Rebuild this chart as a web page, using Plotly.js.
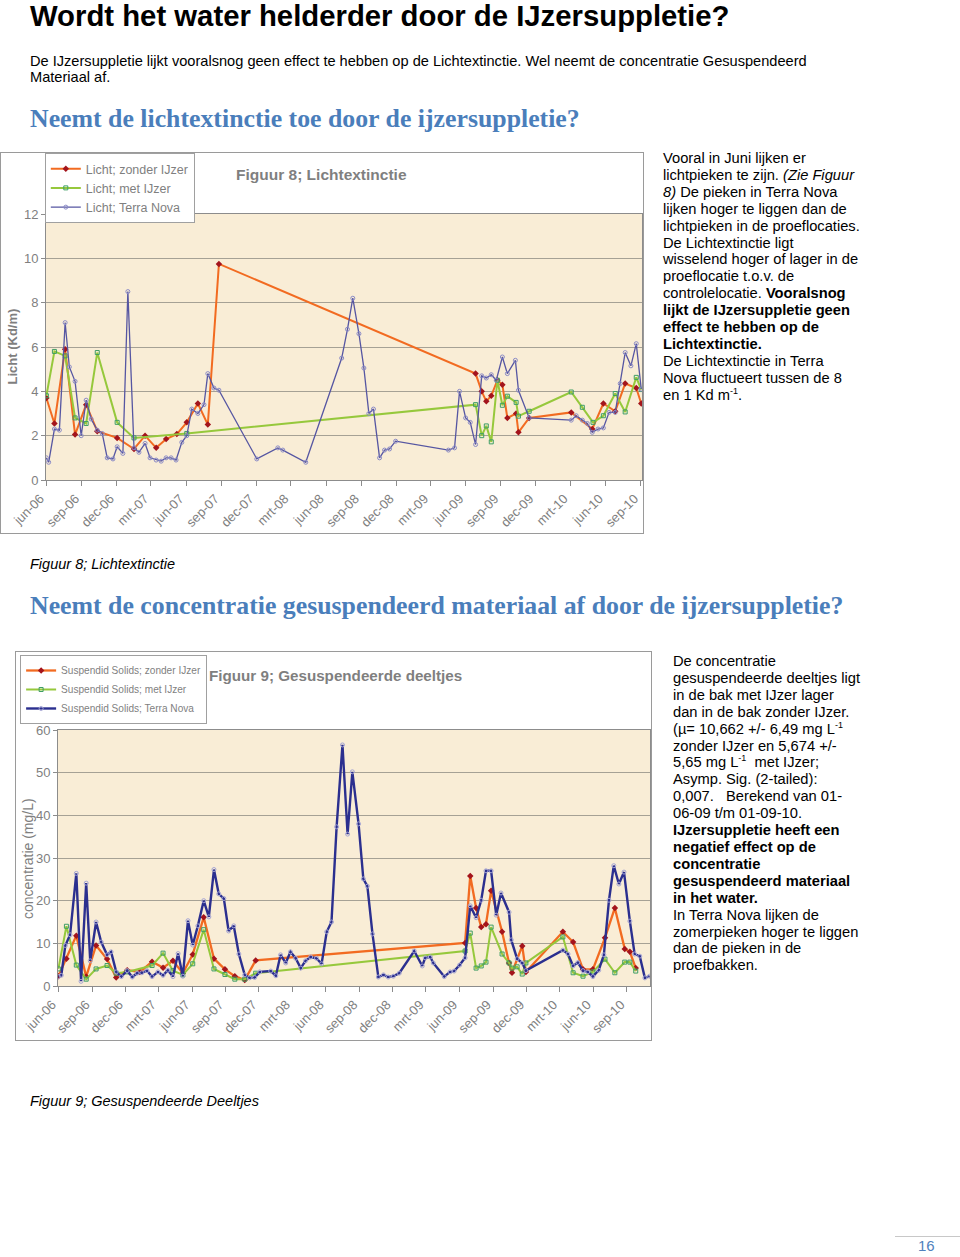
<!DOCTYPE html>
<html>
<head>
<meta charset="utf-8">
<script src="https://cdn.plot.ly/plotly-3.0.1.min.js"></script>
<style>
  body { margin: 0; background: #fff; font-family: 'Liberation Sans', Arial, sans-serif; color: #000; }
  #page { position: relative; width: 960px; height: 1257px; overflow: hidden; }
  .abs { position: absolute; white-space: nowrap; }
  .h1 { left: 30px; top: -1px; font-size: 29.3px; font-weight: bold; }
  .intro { left: 30px; top: 53px; font-size: 14.6px; line-height: 16px; }
  .h2 { left: 30px; font-family: 'Liberation Serif', 'DejaVu Serif', serif; font-weight: bold; font-size: 25.8px; color: #4A7EBB; }
  .caption { left: 30px; font-style: italic; font-size: 14.5px; }
  .side { font-size: 14.7px; line-height: 16.9px; }
  .side sup { font-size: 9px; line-height: 0; vertical-align: 6px; }
  .chartbox { position: absolute; border: 1px solid #9a9a9a; }
  .pagenr { left: 918px; top: 1237px; font-size: 15px; color: #4F81BD; }
  .rule { position: absolute; left: 895px; top: 1236px; width: 65px; height: 1px; background: #c8c8c8; }
</style>
</head>
<body>
<div id="page">
  <div class="abs h1">Wordt het water helderder door de IJzersuppletie?</div>
  <div class="abs intro">De IJzersuppletie lijkt vooralsnog geen effect te hebben op de Lichtextinctie. Wel neemt de concentratie Gesuspendeerd<br>Materiaal af.</div>
  <div class="abs h2" style="top:104px;">Neemt de lichtextinctie toe door de ijzersuppletie?</div>

  <div class="chartbox" style="left:0px; top:152px;"><div id="chart1" style="width:642px; height:380px;"></div></div>

  <div class="abs side" style="left:663px; top:150px;">
    Vooral in Juni lijken er<br>
    lichtpieken te zijn. <i>(Zie Figuur</i><br>
    <i>8)</i> De pieken in Terra Nova<br>
    lijken hoger te liggen dan de<br>
    lichtpieken in de proeflocaties.<br>
    De Lichtextinctie ligt<br>
    wisselend hoger of lager in de<br>
    proeflocatie t.o.v. de<br>
    controlelocatie. <b>Vooralsnog</b><br>
    <b>lijkt de IJzersuppletie geen</b><br>
    <b>effect te hebben op de</b><br>
    <b>Lichtextinctie.</b><br>
    De Lichtextinctie in Terra<br>
    Nova fluctueert tussen de 8<br>
    en 1 Kd m<sup>-1</sup>.
  </div>

  <div class="abs caption" style="top:556px;">Figuur 8; Lichtextinctie</div>
  <div class="abs h2" style="top:591px;">Neemt de concentratie gesuspendeerd materiaal af door de ijzersuppletie?</div>

  <div class="chartbox" style="left:15px; top:651px;"><div id="chart2" style="width:635px; height:388px;"></div></div>

  <div class="abs side" style="left:673px; top:653px;">
    De concentratie<br>
    gesuspendeerde deeltjes ligt<br>
    in de bak met IJzer lager<br>
    dan in de bak zonder IJzer.<br>
    (µ= 10,662 +/- 6,49 mg L<sup>-1</sup><br>
    zonder IJzer en 5,674 +/-<br>
    5,65 mg L<sup>-1</sup> &nbsp;met IJzer;<br>
    Asymp. Sig. (2-tailed):<br>
    0,007. &nbsp;&nbsp;Berekend van 01-<br>
    06-09 t/m 01-09-10.<br>
    <b>IJzersuppletie heeft een</b><br>
    <b>negatief effect op de</b><br>
    <b>concentratie</b><br>
    <b>gesuspendeerd materiaal</b><br>
    <b>in het water.</b><br>
    In Terra Nova lijken de<br>
    zomerpieken hoger te liggen<br>
    dan de pieken in de<br>
    proefbakken.
  </div>

  <div class="abs caption" style="top:1093px;">Figuur 9; Gesuspendeerde Deeltjes</div>
  <div class="rule"></div>
  <div class="abs pagenr">16</div>
</div>

<script>
// shared x-axis ticks (every 3 months)
const tickDates = ['2006-06-01','2006-09-01','2006-12-01','2007-03-01','2007-06-01','2007-09-01',
  '2007-12-01','2008-03-01','2008-06-01','2008-09-01','2008-12-01','2009-03-01',
  '2009-06-01','2009-09-01','2009-12-01','2010-03-01','2010-06-01','2010-09-01'];
const tickLabels = ['jun-06','sep-06','dec-06','mrt-07','jun-07','sep-07','dec-07','mrt-08','jun-08',
  'sep-08','dec-08','mrt-09','jun-09','sep-09','dec-09','mrt-10','jun-10','sep-10'];

// Figuur 8: Licht (Kd/m)
const lichtZonderDates = ['2006-06-01','2006-06-22','2006-07-20','2006-08-15','2006-09-13','2006-10-12',
  '2006-12-03','2007-01-16','2007-02-14','2007-03-15','2007-04-10','2007-05-08','2007-06-03','2007-07-02',
  '2007-07-28','2007-08-26','2009-06-27','2009-07-13','2009-07-25','2009-08-07','2009-08-23','2009-09-05',
  '2009-09-18','2009-10-11','2009-10-17','2009-11-14','2010-03-04','2010-04-28','2010-05-27','2010-06-27',
  '2010-07-23','2010-08-21','2010-09-03'];
const lichtZonder = [3.7,2.55,5.9,2.05,3.4,2.2,1.9,1.4,2.0,1.45,1.85,2.07,2.6,3.45,2.5,9.75,
  4.8,4.0,3.55,3.8,4.5,4.3,2.8,3.0,2.15,2.8,3.05,2.3,3.45,3.1,4.35,4.15,3.45];

const lichtMetDates = ['2006-06-01','2006-06-22','2006-07-20','2006-08-15','2006-09-13','2006-10-12',
  '2006-12-03','2007-01-16','2007-06-03','2009-06-27','2009-07-13','2009-07-25','2009-08-07','2009-08-23',
  '2009-09-05','2009-09-18','2009-10-11','2009-10-17','2009-11-14','2010-03-04','2010-04-02','2010-04-30',
  '2010-05-27','2010-06-27','2010-07-23','2010-08-21','2010-09-03'];
const lichtMet = [3.8,5.8,5.6,2.8,2.55,5.75,2.6,1.9,2.1,3.4,2.0,2.44,1.72,4.5,3.37,3.78,3.5,2.88,3.1,
  3.97,3.28,2.6,2.9,3.9,3.07,4.63,4.08];

const lichtTNDates = ['2006-06-01','2006-06-07','2006-06-22','2006-07-05','2006-07-20','2006-07-31',
  '2006-08-15','2006-08-31','2006-09-13','2006-09-26','2006-10-12','2006-10-25','2006-11-07','2006-11-22',
  '2006-12-03','2006-12-18','2006-12-31','2007-01-16','2007-01-29','2007-02-14','2007-02-27','2007-03-15',
  '2007-03-28','2007-04-10','2007-04-23','2007-05-06','2007-05-21','2007-06-03','2007-06-16','2007-07-02',
  '2007-07-18','2007-07-28','2007-08-13','2007-08-26','2007-12-03','2008-01-27','2008-02-09','2008-04-09',
  '2008-07-12','2008-07-27','2008-08-10','2008-08-26','2008-09-08','2008-09-21','2008-10-03','2008-10-19',
  '2008-11-01','2008-11-14','2008-11-30','2009-04-17','2009-05-03','2009-05-16','2009-06-01','2009-06-13',
  '2009-06-27','2009-07-13','2009-07-25','2009-08-07','2009-08-20','2009-09-05','2009-09-18','2009-10-09',
  '2009-10-17','2009-11-14','2010-03-04','2010-03-17','2010-04-02','2010-04-15','2010-04-28','2010-05-13',
  '2010-05-27','2010-06-11','2010-06-27','2010-07-10','2010-07-23','2010-08-07','2010-08-21','2010-09-03'];
const lichtTN = [1.0,0.8,2.3,2.25,7.1,5.1,4.45,2.0,3.6,2.75,2.25,2.1,1.0,0.95,1.5,1.2,8.5,
  1.45,1.25,1.65,1.0,0.9,0.85,1.0,1.0,0.9,1.7,2.0,3.2,3.0,3.4,4.8,4.15,4.05,0.95,
  1.45,1.35,0.8,5.5,6.8,8.2,6.6,5.05,3.0,3.2,1.0,1.35,1.4,1.75,
  1.35,1.45,4.0,2.8,2.6,1.6,4.7,4.6,4.75,4.5,5.55,4.8,5.4,4.05,2.8,
  2.7,2.9,2.7,2.55,2.15,2.3,2.35,3.05,3.05,4.35,5.75,5.15,6.15,4.1];

// Figuur 9: Suspendid Solids (mg/L)
const ssZonderDates = ['2006-06-01','2006-06-23','2006-07-20','2006-08-16','2006-09-12','2006-10-12',
  '2006-11-06','2006-12-06','2007-01-10','2007-02-12','2007-03-14','2007-04-10','2007-05-07','2007-06-03',
  '2007-07-03','2007-07-31','2007-08-30','2007-09-26','2007-10-23','2007-11-22','2009-06-16','2009-06-30',
  '2009-07-16','2009-07-30','2009-08-12','2009-08-26','2009-09-25','2009-10-14','2009-10-22','2009-11-19',
  '2009-11-29','2010-03-10','2010-04-07','2010-05-04','2010-05-31','2010-07-03','2010-07-30','2010-08-26',
  '2010-09-09','2010-09-25'];
const ssZonder = [2.3,6.4,11.8,2.2,9.5,6.3,2.0,3.7,3.3,5.7,4.3,5.9,3.0,7.4,16.1,6.4,3.9,2.3,1.4,6.0,
  10.1,25.8,18.3,13.8,14.5,22.3,12.7,5.4,3.1,9.4,3.3,12.7,10.3,3.9,3.9,11.3,18.3,8.7,8.0,4.2];

const ssMetDates = ['2006-06-01','2006-06-23','2006-07-20','2006-08-16','2006-09-12','2006-10-12',
  '2006-11-06','2006-12-06','2007-02-12','2007-03-14','2007-04-10','2007-05-07','2007-06-03','2007-07-03',
  '2007-07-31','2007-08-30','2007-09-26','2007-10-23','2007-11-22','2009-06-16','2009-06-30','2009-07-16',
  '2009-07-30','2009-08-12','2009-08-26','2009-09-25','2009-10-14','2009-10-22','2009-11-05','2009-11-19',
  '2009-11-29','2010-03-10','2010-04-07','2010-05-04','2010-05-31','2010-07-03','2010-07-30','2010-08-26',
  '2010-09-09','2010-09-25'];
const ssMet = [4.0,14.0,4.9,1.6,4.0,4.8,3.0,3.3,4.8,7.7,3.6,2.6,5.2,13.2,4.0,2.7,1.6,1.6,3.0,
  8.2,12.4,4.2,4.7,5.6,13.8,7.5,5.4,4.2,4.5,2.8,5.4,11.5,3.1,2.3,3.3,6.3,3.1,5.6,5.6,3.5];

const ssTNDates = ['2006-06-01','2006-06-09','2006-06-20','2006-07-03','2006-07-20','2006-08-02',
  '2006-08-16','2006-08-27','2006-09-12','2006-09-26','2006-10-12','2006-10-23','2006-11-06','2006-11-20',
  '2006-12-06','2006-12-20','2007-01-02','2007-01-15','2007-01-29','2007-02-12','2007-02-28','2007-03-14',
  '2007-03-27','2007-04-10','2007-04-24','2007-05-07','2007-05-21','2007-06-03','2007-06-17','2007-07-03',
  '2007-07-17','2007-07-31','2007-08-13','2007-08-27','2007-09-09','2007-09-23','2007-10-07','2007-10-23',
  '2007-11-05','2007-11-19','2007-12-03','2008-01-02','2008-01-16','2008-01-29','2008-02-12','2008-02-25',
  '2008-03-10','2008-03-24','2008-04-06','2008-04-20','2008-05-06','2008-05-20','2008-06-03','2008-06-16',
  '2008-06-30','2008-07-16','2008-07-30','2008-08-12','2008-08-29','2008-09-11','2008-09-22','2008-10-06',
  '2008-10-22','2008-11-05','2008-11-18','2008-12-02','2008-12-18','2009-01-28','2009-02-19','2009-02-27',
  '2009-03-13','2009-03-21','2009-04-20','2009-05-06','2009-05-17','2009-06-01','2009-06-16','2009-06-30',
  '2009-07-16','2009-07-30','2009-08-12','2009-08-26','2009-09-09','2009-09-22','2009-10-14','2009-10-20',
  '2009-11-05','2009-11-19','2009-11-29','2010-03-10','2010-03-24','2010-04-07','2010-04-20','2010-05-04',
  '2010-05-17','2010-05-31','2010-06-16','2010-06-30','2010-07-14','2010-07-27','2010-08-10','2010-08-24',
  '2010-09-09','2010-09-22','2010-10-06','2010-10-20','2010-11-02'];
const ssTN = [2.2,2.5,9.5,12.0,26.4,1.1,24.1,5.9,15.0,10.3,7.3,8.0,3.3,2.2,3.6,2.1,
  3.0,3.1,3.6,2.2,3.3,2.5,3.7,2.2,7.6,2.3,15.3,9.6,14.1,20.0,16.2,27.3,21.6,20.5,12.9,14.1,7.5,2.6,1.9,2.0,3.3,
  3.5,2.4,7.3,5.4,8.0,6.5,4.2,5.9,6.8,6.5,5.2,12.7,15.0,37.3,56.5,35.6,50.2,38.0,25.1,23.4,12.2,2.1,2.6,2.1,2.3,3.0,
  8.2,4.7,6.6,6.8,5.4,2.2,3.3,3.5,4.9,6.6,18.8,16.0,20.1,27.0,27.0,16.6,21.8,17.3,10.8,6.4,5.4,3.6,
  8.4,7.5,4.7,5.5,3.6,3.3,2.2,3.7,7.3,20.1,28.2,23.9,26.7,15.2,7.5,7.0,1.9,2.3];

const grey = '#7F7F7F';
const font = "'Liberation Sans', Arial, sans-serif";

function xAxis(range, size) {
  return {
    type: 'date', range: range, tickvals: tickDates, ticktext: tickLabels, tickangle: -45,
    ticks: 'outside', ticklen: 5, tickcolor: '#8c8c8c', showline: true, linecolor: '#8c8c8c',
    mirror: true, showgrid: false, zeroline: false, ticklabelshift: -6,
    tickfont: {size: size, color: grey}
  };
}

function yAxis(range, dtick) {
  return {
    range: range, dtick: dtick, showgrid: true, gridcolor: '#A6A195', gridwidth: 1,
    ticks: 'outside', ticklen: 4, tickcolor: '#8c8c8c', showline: true, linecolor: '#8c8c8c',
    mirror: true, zeroline: false, tickfont: {size: 13, color: grey}
  };
}

// chart 1
let zonder1 = {
  x: lichtZonderDates, y: lichtZonder, name: 'Licht; zonder IJzer', mode: 'lines+markers', type: 'scatter',
  line: {color: '#F26B21', width: 2}, marker: {symbol: 'diamond', size: 5, color: '#A3141C'}
};
let met1 = {
  x: lichtMetDates, y: lichtMet, name: 'Licht; met IJzer', mode: 'lines+markers', type: 'scatter',
  line: {color: '#96C83C', width: 2}, marker: {symbol: 'square-open', size: 4, color: '#3E9E64'}
};
let tn1 = {
  x: lichtTNDates, y: lichtTN, name: 'Licht; Terra Nova', mode: 'lines+markers', type: 'scatter',
  line: {color: '#5656A2', width: 1.3}, marker: {symbol: 'circle-open', size: 4, color: '#8A8AC6'}
};

let layout1 = {
  width: 642, height: 380,
  margin: {l: 45, r: 1, t: 60, b: 53},
  paper_bgcolor: '#ffffff', plot_bgcolor: '#F9EDD6',
  font: {family: font, color: grey},
  xaxis: xAxis(['2006-05-31', '2010-09-05'], 13),
  yaxis: yAxis([0, 12], 2),
  showlegend: true,
  legend: {
    x: -0.002, y: 1.2247, xanchor: 'left', yanchor: 'top', bgcolor: '#ffffff',
    bordercolor: '#A0A0A0', borderwidth: 1, font: {size: 12.5, color: grey}, tracegroupgap: 0
  },
  annotations: [
    {text: '<b>Figuur 8; Lichtextinctie</b>', xref: 'paper', yref: 'paper', x: 0.315, y: 1.15,
     xanchor: 'left', yanchor: 'middle', showarrow: false, font: {size: 15.5, color: grey}},
    {text: '<b>Licht (Kd/m)</b>', xref: 'paper', yref: 'paper', x: -0.057, y: 0.502, textangle: -90,
     xanchor: 'center', yanchor: 'middle', showarrow: false, font: {size: 13, color: grey}}
  ]
};

Plotly.newPlot('chart1', [zonder1, met1, tn1], layout1, {displayModeBar: false});

// chart 2
let zonder2 = {
  x: ssZonderDates, y: ssZonder, name: 'Suspendid Solids; zonder IJzer', mode: 'lines+markers', type: 'scatter',
  line: {color: '#F26B21', width: 2.3}, marker: {symbol: 'diamond', size: 5, color: '#A3141C'}
};
let met2 = {
  x: ssMetDates, y: ssMet, name: 'Suspendid Solids; met IJzer', mode: 'lines+markers', type: 'scatter',
  line: {color: '#96C83C', width: 2}, marker: {symbol: 'square-open', size: 4, color: '#3E9E64'}
};
let tn2 = {
  x: ssTNDates, y: ssTN, name: 'Suspendid Solids; Terra Nova', mode: 'lines+markers', type: 'scatter',
  line: {color: '#2B2F8F', width: 2.4}, marker: {symbol: 'circle-open', size: 4, color: '#A4A4D4'}
};

let layout2 = {
  width: 635, height: 388,
  margin: {l: 42, r: 1, t: 78, b: 54},
  paper_bgcolor: '#ffffff', plot_bgcolor: '#F9EDD6',
  font: {family: font, color: grey},
  xaxis: xAxis(['2006-05-31', '2010-11-03'], 13),
  yaxis: yAxis([0, 60], 10),
  showlegend: true,
  legend: {
    x: -0.064, y: 1.293, xanchor: 'left', yanchor: 'top', bgcolor: '#ffffff',
    bordercolor: '#A0A0A0', borderwidth: 1, font: {size: 10.1, color: grey}, tracegroupgap: 0
  },
  annotations: [
    {text: '<b>Figuur 9; Gesuspendeerde deeltjes</b>', xref: 'paper', yref: 'paper', x: 0.2517, y: 1.211,
     xanchor: 'left', yanchor: 'middle', showarrow: false, font: {size: 15.2, color: grey}},
    {text: 'concentratie (mg/L)', xref: 'paper', yref: 'paper', x: -0.0507, y: 0.5, textangle: -90,
     xanchor: 'center', yanchor: 'middle', showarrow: false, font: {size: 14, color: grey}}
  ]
};

Plotly.newPlot('chart2', [zonder2, met2, tn2], layout2, {displayModeBar: false});
</script>
</body>
</html>
